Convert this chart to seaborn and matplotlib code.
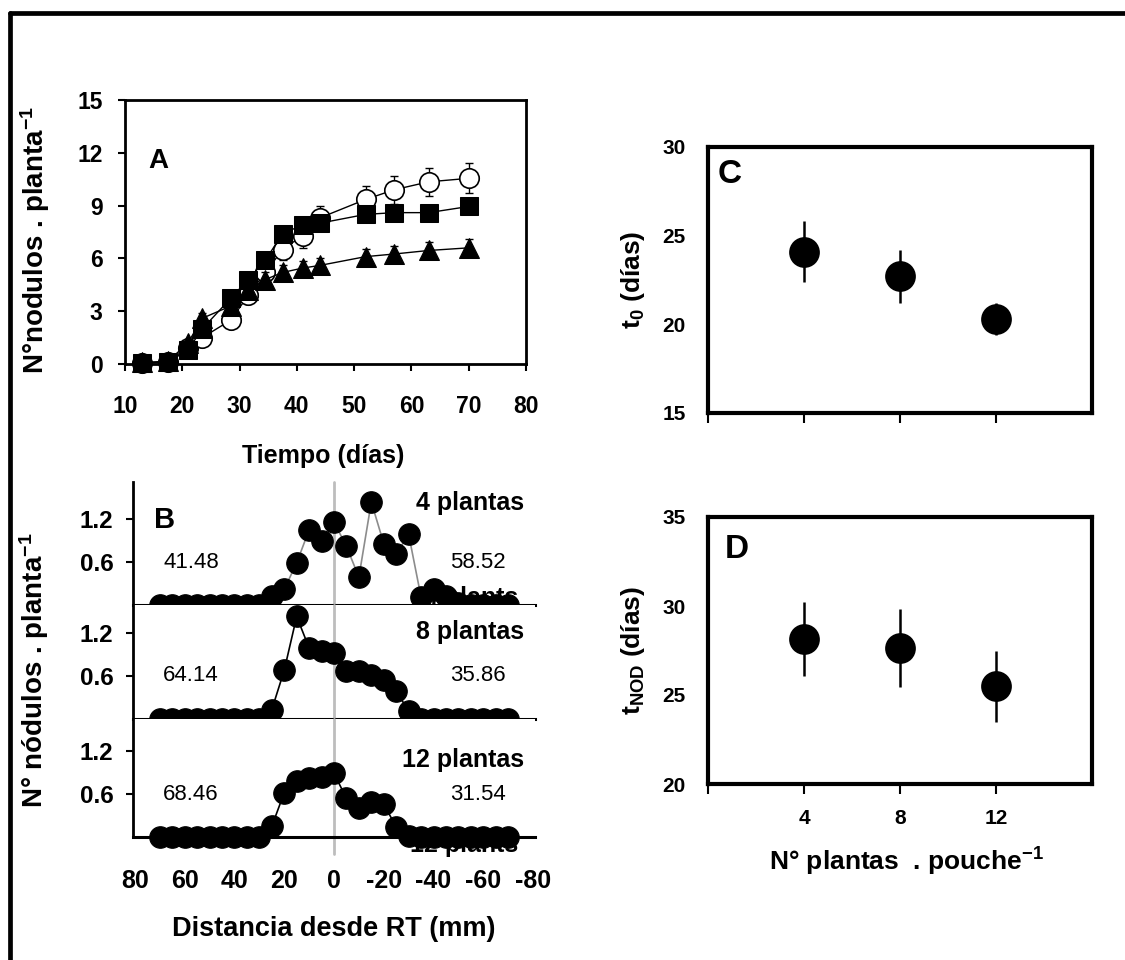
import matplotlib
matplotlib.use("Agg")
import matplotlib.pyplot as plt
import seaborn as sns
import numpy as np
from matplotlib.lines import Line2D

sns.set_style("ticks")
plt.rcParams['font.family'] = ['Liberation Sans', 'DejaVu Sans']
plt.rcParams['font.weight'] = 'bold'
plt.rcParams['text.color'] = 'black'
plt.rcParams['axes.labelcolor'] = 'black'
plt.rcParams['xtick.color'] = 'black'
plt.rcParams['ytick.color'] = 'black'
plt.rcParams['mathtext.fontset'] = 'custom'
plt.rcParams['mathtext.rm'] = 'Liberation Sans:bold'
plt.rcParams['mathtext.it'] = 'Liberation Sans:bold'
plt.rcParams['mathtext.bf'] = 'Liberation Sans:bold'

# ---------------- data ----------------
# Panel A
tiempo = [13, 17.5, 21, 23.5, 28.5, 31.5, 34.5, 37.5, 41, 44, 52, 57, 63, 70]
circ = [0.05, 0.1, 0.9, 1.5, 2.5, 3.9, 5.2, 6.5, 7.3, 8.3, 9.35, 9.9, 10.35, 10.55]
circ_err = [0.1, 0.1, 0.2, 0.3, 0.3, 0.5, 0.5, 0.6, 0.7, 0.7, 0.75, 0.8, 0.8, 0.85]
sq = [0.05, 0.1, 0.8, 2.0, 3.75, 4.8, 5.9, 7.4, 7.9, 8.0, 8.5, 8.6, 8.6, 8.95]
sq_err = [0.1, 0.1, 0.2, 0.3, 0.4, 0.4, 0.4, 0.4, 0.4, 0.4, 0.4, 0.4, 0.45, 0.45]
tri = [0.1, 0.15, 1.2, 2.6, 3.3, 4.2, 4.8, 5.2, 5.45, 5.6, 6.1, 6.25, 6.45, 6.6]
tri_err = [0.1, 0.1, 0.2, 0.3, 0.4, 0.5, 0.4, 0.4, 0.4, 0.4, 0.45, 0.45, 0.5, 0.5]

# Panel B
dist = [70, 65, 60, 55, 50, 45, 40, 35, 30, 25, 20, 15, 10, 5, 0,
        -5, -10, -15, -20, -25, -30, -35, -40, -45, -50, -55, -60, -65, -70]
p4 = [0, 0, 0, 0, 0, 0, 0, 0, 0, 0.13, 0.22, 0.59, 1.05, 0.9, 1.16,
      0.82, 0.39, 1.44, 0.86, 0.71, 0.99, 0.11, 0.23, 0.12, 0.03, 0, 0, 0, 0]
p8 = [0, 0, 0, 0, 0, 0, 0, 0, 0, 0.13, 0.68, 1.43, 0.99, 0.95, 0.92,
      0.67, 0.67, 0.62, 0.55, 0.39, 0.11, 0, 0, 0, 0, 0, 0, 0, 0]
p12 = [0, 0, 0, 0, 0, 0, 0, 0, 0, 0.15, 0.62, 0.79, 0.82, 0.84, 0.89,
       0.54, 0.40, 0.49, 0.46, 0.14, 0.02, 0, 0, 0, 0, 0, 0, 0, 0]
b_titles = ["4 plantas", "8 plantas", "12 plantas"]
b_plants = ["4 plants", "8 plants", "12 plants"]
b_left = ["41.48", "64.14", "68.46"]
b_right = ["58.52", "35.86", "31.54"]

# Panels C, D
plantas = [4, 8, 12]
t0 = [24.1, 22.7, 20.3]
t0_err = [1.7, 1.5, 0.9]
tnod = [28.15, 27.65, 25.5]
tnod_err = [2.1, 2.2, 2.0]

W, H = 1125, 960
fig = plt.figure(figsize=(W / 100, H / 100), dpi=100)

def rect(l, t, r, b):
    return [l / W, 1 - b / H, (r - l) / W, (b - t) / H]

# outer frame
fig.add_artist(Line2D([9.5 / W, 9.5 / W], [0, 1 - 12.5 / H], color='black', lw=3.4))
fig.add_artist(Line2D([9.5 / W, 1.0], [1 - 12.5 / H, 1 - 12.5 / H], color='black', lw=3.4))

# ---------------- Panel A ----------------
axA = fig.add_axes(rect(125, 100, 526, 364))
for s in axA.spines.values():
    s.set_linewidth(2)
    s.set_color('black')
axA.errorbar(tiempo, circ, yerr=circ_err, fmt='none', ecolor='black', elinewidth=1, capsize=3, zorder=2)
sns.lineplot(x=tiempo, y=circ, ax=axA, color='black', lw=1, marker='o', markersize=14,
             markerfacecolor='white', markeredgecolor='black', markeredgewidth=1.2, zorder=3, clip_on=False)
axA.errorbar(tiempo, sq, yerr=sq_err, fmt='none', ecolor='black', elinewidth=1, capsize=3, zorder=4)
sns.lineplot(x=tiempo, y=sq, ax=axA, color='black', lw=1, marker='s', markersize=12.5,
             markerfacecolor='black', markeredgecolor='black', zorder=5, clip_on=False)
axA.errorbar(tiempo, tri, yerr=tri_err, fmt='none', ecolor='black', elinewidth=1, capsize=3, zorder=6)
sns.lineplot(x=tiempo, y=tri, ax=axA, color='black', lw=1, marker='^', markersize=14,
             markerfacecolor='black', markeredgecolor='black', zorder=7, clip_on=False)
axA.set_xlim(10, 80)
axA.set_ylim(0, 15)
axA.set_xticks([10, 20, 30, 40, 50, 60, 70, 80])
axA.set_yticks([0, 3, 6, 9, 12, 15])
axA.tick_params(axis='both', direction='out', length=5, width=1.5, labelsize=16.5, colors='black')
axA.tick_params(axis='x', pad=17)
axA.tick_params(axis='y', pad=11)
for lab in axA.get_xticklabels() + axA.get_yticklabels():
    lab.set_fontweight('bold')
axA.set_xlabel("Tiempo (días)", fontsize=18, fontweight='bold')
axA.xaxis.set_label_coords(0.494, -0.303)
axA.set_ylabel("N°nodulos . planta$^{-1}$", fontsize=20, fontweight='bold')
axA.yaxis.set_label_coords(-0.181, 0.47)
axA.text(0.057, 0.77, "A", transform=axA.transAxes, fontsize=20, fontweight='bold', va='center', ha='left')

# ---------------- Panel B ----------------
b_rects = [(482, 605), (605, 719), (719, 837)]
b_tops = [1.72, 1.59, 1.65]
b_data = [p4, p8, p12]
b_line_colors = ['#8c8c8c', 'black', 'black']
b_title_y = [1.42, 1.21, 1.07]
b_plants_y = [0.1, -0.13, -0.11]
axesB = []
for i in range(3):
    t, b = b_rects[i]
    ax = fig.add_axes(rect(133, t, 535, b))
    axesB.append(ax)
    ax.set_xlim(80.8, -80.8)
    ax.set_ylim(0, b_tops[i])
    for k in ['top', 'right']:
        ax.spines[k].set_visible(False)
    ax.spines['left'].set_linewidth(2)
    ax.spines['bottom'].set_linewidth(2.2)
    ax.spines['left'].set_color('black')
    ax.spines['bottom'].set_color('black')
    ax.set_yticks([0.6, 1.2])
    ax.set_yticklabels(["0.6", "1.2"])
    ax.tick_params(axis='y', direction='out', length=5, width=1.5, labelsize=17.5, pad=9, colors='black')
    for lab in ax.get_yticklabels():
        lab.set_fontweight('bold')
    ymin = -0.14 if i == 2 else 0
    ax.axvline(0, ymin=ymin, ymax=1, color='#bdbdbd', lw=2, zorder=1, clip_on=False)
    ax.text(-74, b_plants_y[i], b_plants[i], fontsize=18, fontweight='bold', ha='right',
            va='center', zorder=2, clip_on=False)
    n_before = len(ax.get_lines())
    sns.lineplot(x=dist, y=b_data[i], ax=ax, color=b_line_colors[i], lw=1.2, marker='o',
                 markerfacecolor='black', markeredgecolor='black',
                 zorder=4, clip_on=False)
    for ln in ax.get_lines()[n_before:]:
        ln.set_markersize(15.5)
        ln.set_markeredgewidth(0.8)
    ax.text(-76.5, b_title_y[i], b_titles[i], fontsize=18, fontweight='bold', ha='right', va='center', zorder=5)
    ax.text(57.5, 0.6, b_left[i], fontsize=16, fontweight='normal', ha='center', va='center')
    ax.text(-58, 0.6, b_right[i], fontsize=16, fontweight='normal', ha='center', va='center')
    if i < 2:
        ax.set_xticks([])
    ax.set_ylabel("")
    ax.set_xlabel("")

axesB[0].text(72.5, 1.19, "B", fontsize=21, fontweight='bold', ha='left', va='center')
ax3 = axesB[2]
ax3.set_xticks([80, 60, 40, 20, 0, -20, -40, -60, -80])
ax3.set_xticklabels(["80", "60", "40", "20", "0", "-20", "-40", "-60", "-80"])
ax3.tick_params(axis='x', length=0, labelsize=18, pad=23, colors='black')
for lab in ax3.get_xticklabels():
    lab.set_fontweight('bold')
ax3.set_xlabel("Distancia desde RT (mm)", fontsize=19.5, fontweight='bold')
ax3.xaxis.set_label_coords(0.5, -0.669)
axesB[1].set_ylabel("N° nódulos . planta$^{-1}$", fontsize=20, fontweight='bold')
axesB[1].yaxis.set_label_coords(-0.204, 0.43)

# ---------------- Panels C, D ----------------
def dot_panel(ax, y, yerr, ylim, yticks, letter, ylabel, letter_xy, xlabels):
    for s in ax.spines.values():
        s.set_linewidth(3)
        s.set_color('black')
    ax.errorbar(plantas, y, yerr=yerr, fmt='none', ecolor='black', elinewidth=1.8, capsize=0, zorder=2)
    sns.scatterplot(x=plantas, y=y, ax=ax, s=420, color='black', edgecolor='black', zorder=3)
    ax.set_xlim(0, 16)
    ax.set_ylim(*ylim)
    ax.set_xticks([0, 4, 8, 12])
    ax.set_yticks(yticks)
    ax.tick_params(axis='x', direction='out', length=7, width=1.5, labelsize=15, pad=11, colors='black')
    ax.tick_params(axis='y', length=0, labelsize=15, pad=16, colors='black')
    if xlabels:
        ax.set_xticklabels(["", "4", "8", "12"])
    else:
        ax.set_xticklabels([])
    for lab in ax.get_xticklabels() + ax.get_yticklabels():
        lab.set_fontweight('bold')
    ax.text(letter_xy[0], letter_xy[1], letter, transform=ax.transAxes, fontsize=24,
            fontweight='bold', ha='left', va='center')
    ax.set_ylabel(ylabel, fontsize=19, fontweight='bold')
    ax.yaxis.set_label_coords(-0.159, 0.5)

axC = fig.add_axes(rect(708, 147, 1092, 413))
dot_panel(axC, t0, t0_err, (15, 30), [15, 20, 25, 30], "C", "t$_0$ (días)", (0.026, 0.895), False)
axD = fig.add_axes(rect(708, 517, 1092, 784))
dot_panel(axD, tnod, tnod_err, (20, 35), [20, 25, 30, 35], "D", "t$_{NOD}$ (días)", (0.044, 0.88), True)
axD.set_xlabel("N° plantas  . pouche$^{-1}$", fontsize=19, fontweight='bold')
axD.xaxis.set_label_coords(0.516, -0.23)

fig.savefig("out.png", dpi=100)
